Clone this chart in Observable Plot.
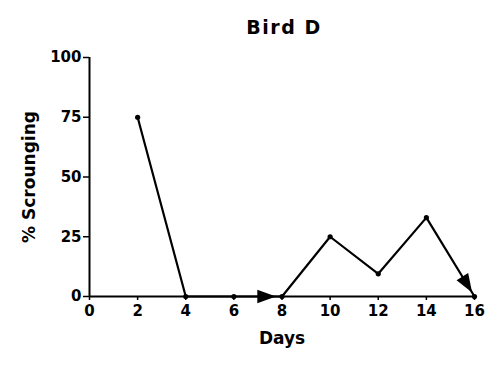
<!DOCTYPE html>
<html><head><meta charset="utf-8">
<script src="https://cdn.jsdelivr.net/npm/d3@7"></script>
<script src="https://cdn.jsdelivr.net/npm/@observablehq/plot@0.6"></script>
<style>body{margin:0;background:#fff}svg{font-family:"DejaVu Sans",sans-serif;font-weight:bold}</style>
</head><body><div id="chart"></div>
<script>
const title = "Bird D";
const days = [2, 4, 6, 8, 10, 12, 14, 16];
const scrounging = [75, 0, 0, 0, 25, 9.5, 33, 0];
const xTicks = [0, 2, 4, 6, 8, 10, 12, 14, 16];
const yTicks = [0, 25, 50, 75, 100];
// arrowhead tips placed along the line segments (day position of each tip)
const arrowDays = [7.75, 15.9];

const data = days.map((d, i) => ({day: d, value: scrounging[i]}));
const W = 490, H = 365, mL = 89, mR = 16, mT = 57, mB = 69;
const kx = (W - mL - mR) / 16, ky = (H - mT - mB) / 100;
function valueAt(d) {
  for (let i = 0; i < days.length - 1; i++) {
    if (d >= days[i] && d <= days[i + 1]) {
      const t = (d - days[i]) / (days[i + 1] - days[i]);
      return {v: scrounging[i] + t * (scrounging[i + 1] - scrounging[i]), i};
    }
  }
}
const arrows = arrowDays.map(d => {
  const {v, i} = valueAt(d);
  const dxp = (days[i + 1] - days[i]) * kx;
  const dyp = -(scrounging[i + 1] - scrounging[i]) * ky;
  const ang = Math.atan2(dxp, -dyp) * 180 / Math.PI;
  return {day: d, value: v, rot: ang};
});
// narrow arrowhead symbol pointing up, tip at the origin
const arrowHead = {
  draw(ctx, size) {
    const r = Math.sqrt(size / Math.PI);
    const L = r * 2.2, w = r * 0.8;
    ctx.moveTo(0, 0);
    ctx.lineTo(w, L);
    ctx.lineTo(-w, L);
    ctx.closePath();
  }
};

const chart = Plot.plot({
  width: W, height: H,
  marginLeft: mL, marginRight: mR, marginTop: mT, marginBottom: mB,
  style: {fontSize: "15px", fontWeight: "bold", color: "#000", background: "#fff"},
  x: {domain: [0, 16], ticks: xTicks},
  y: {domain: [0, 100], ticks: yTicks},
  marks: [
    Plot.axisX({ticks: xTicks, tickSize: 4, tickPadding: 5, tickFormat: d => d, fontSize: 15, label: "Days", labelAnchor: "center", labelArrow: "none", labelOffset: 47, strokeWidth: 1.5}),
    Plot.axisY({ticks: yTicks, tickSize: 6, tickPadding: 2, tickFormat: d => d, fontSize: 15, label: "% Scrounging", labelAnchor: "center", labelArrow: "none", labelOffset: 67, strokeWidth: 1.5}),
    Plot.ruleX([0], {strokeWidth: 2}),
    Plot.ruleY([0], {strokeWidth: 2}),
    Plot.line(data, {x: "day", y: "value", stroke: "#000", strokeWidth: 2.2}),
    Plot.dot(data, {x: "day", y: "value", r: 2.6, fill: "#000"}),
    Plot.dot(arrows, {x: "day", y: "value", symbol: arrowHead, rotate: "rot", r: 8.5, fill: "#000"}),
    Plot.text([title], {frameAnchor: "top", dy: -37, dx: 2, fontSize: 19, fontWeight: "bold"})
  ]
});
chart.querySelectorAll("[aria-label='x-axis label'] text, [aria-label='y-axis label'] text").forEach(t => t.setAttribute("font-size", "17"));
chart.querySelectorAll("[aria-label='text'] text").forEach(t => t.setAttribute("letter-spacing", "1.5"));
document.getElementById("chart").append(chart);
</script></body></html>
